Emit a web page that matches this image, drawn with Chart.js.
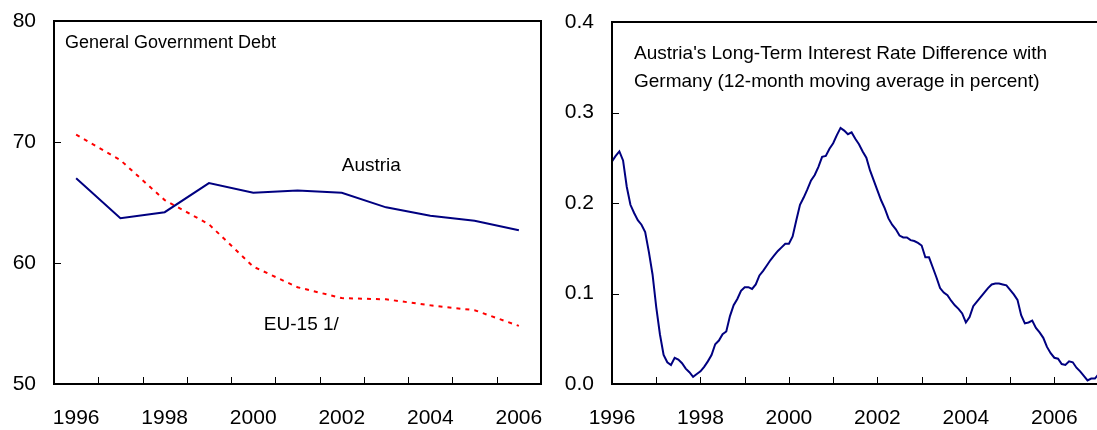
<!DOCTYPE html>
<html>
<head>
<meta charset="utf-8">
<script src="https://cdn.jsdelivr.net/npm/chart.js@4.4.1/dist/chart.umd.min.js"></script>
<style>
  html, body { margin: 0; padding: 0; background: #fff; overflow: hidden; }
  body { width: 1097px; height: 430px; position: relative; }
  #debtBox { position: absolute; left: 0; top: 0; width: 565px; height: 430px; }
  #spreadBox { position: absolute; left: 560px; top: 0; width: 560px; height: 430px; }
</style>
</head>
<body>
<div id="debtBox"><canvas id="debtChart" width="565" height="430"></canvas></div>
<div id="spreadBox"><canvas id="spreadChart" width="560" height="430"></canvas></div>
<script>
// General government debt (percent of GDP)
const years = ['1996', '1997', '1998', '1999', '2000', '2001', '2002', '2003', '2004', '2005', '2006'];
const austriaDebt = [67.0, 63.7, 64.2, 66.6, 65.8, 66.0, 65.8, 64.6, 63.9, 63.5, 62.7];
const eu15Debt = [70.6, 68.5, 65.2, 63.2, 59.7, 58.0, 57.1, 57.0, 56.5, 56.1, 54.8];

// Long-term rate difference with Germany, monthly from Jan 1996
const spreadStartYear = 1996;
const spreadValues = [
    0.246, 0.252, 0.257, 0.247, 0.218, 0.198, 0.189, 0.181, 0.176, 0.168, 0.146, 0.121,
    0.085, 0.055, 0.032, 0.024, 0.021, 0.029, 0.027, 0.023, 0.017, 0.013, 0.008, 0.011,
    0.014, 0.019, 0.025, 0.032, 0.044, 0.048, 0.055, 0.058, 0.075, 0.087, 0.094, 0.103,
    0.107, 0.107, 0.105, 0.110, 0.120, 0.125, 0.131, 0.137, 0.142, 0.147, 0.151, 0.155,
    0.155, 0.163, 0.181, 0.198, 0.206, 0.215, 0.225, 0.231, 0.240, 0.251, 0.252, 0.260,
    0.266, 0.275, 0.283, 0.280, 0.276, 0.278, 0.271, 0.265, 0.257, 0.250, 0.236, 0.225,
    0.214, 0.203, 0.194, 0.183, 0.176, 0.171, 0.164, 0.162, 0.162, 0.159, 0.158, 0.156,
    0.153, 0.140, 0.140, 0.129, 0.118, 0.106, 0.101, 0.098, 0.092, 0.087, 0.083, 0.078,
    0.068, 0.074, 0.086, 0.091, 0.096, 0.101, 0.106, 0.110, 0.111, 0.111, 0.110, 0.109,
    0.104, 0.099, 0.093, 0.076, 0.067, 0.068, 0.070, 0.062, 0.057, 0.051, 0.041, 0.034,
    0.029, 0.028, 0.022, 0.021, 0.025, 0.024, 0.018, 0.014, 0.009, 0.004, 0.006, 0.006,
    0.011
];

const FONT = "'Liberation Sans', Arial, sans-serif";
const tickFont = { family: FONT, size: 21 };

// black box round the plot area, with short ticks pointing inwards
const frame = {
    id: 'frame',
    afterDraw(chart) {
        const a = chart.chartArea;
        const ctx = chart.ctx;
        const xs = chart.scales.x;
        const ys = chart.scales.y;
        let xMarks = [];
        if (xs.type === 'category') {
            for (let i = 1; i < xs.getLabels().length; i++) {
                xMarks.push((xs.getPixelForValue(i - 1) + xs.getPixelForValue(i)) / 2);
            }
        } else {
            xMarks = xs.ticks.map(t => xs.getPixelForValue(t.value));
        }
        ctx.save();
        ctx.strokeStyle = '#000';
        ctx.lineWidth = 1;
        ctx.beginPath();
        xMarks.forEach(x => {
            const px = Math.round(x) + 0.5;
            ctx.moveTo(px, a.bottom);
            ctx.lineTo(px, a.bottom - 7);
        });
        ys.ticks.forEach(t => {
            const py = Math.round(ys.getPixelForValue(t.value)) + 0.5;
            ctx.moveTo(a.left, py);
            ctx.lineTo(a.left + 7, py);
        });
        ctx.stroke();
        ctx.lineWidth = 2;
        ctx.strokeRect(a.left, a.top, a.right - a.left, a.bottom - a.top);
        ctx.restore();
    }
};

// text inside the plot: at data values (at) or offset from the top-left corner (dx, dy)
function makeNotes(items) {
    return {
        id: 'notes',
        afterDatasetsDraw(chart) {
            const ctx = chart.ctx;
            const a = chart.chartArea;
            ctx.save();
            ctx.fillStyle = '#000';
            ctx.textAlign = 'left';
            ctx.textBaseline = 'alphabetic';
            items.forEach(item => {
                ctx.font = item.size + 'px ' + FONT;
                let x, y;
                if (item.at) {
                    x = chart.scales.x.getPixelForValue(item.at[0]);
                    y = chart.scales.y.getPixelForValue(item.at[1]);
                } else {
                    x = a.left + item.dx;
                    y = a.top + item.dy;
                }
                ctx.fillText(item.text, x, y);
            });
            ctx.restore();
        }
    };
}

const gridOpts = { drawOnChartArea: false, drawTicks: true, tickLength: -6, color: 'rgba(0,0,0,0)', lineWidth: 1 };
const axisLine = { color: '#000', width: 2 };

function fixX(s) { s.height = 46; s.paddingLeft = 0; s.paddingRight = 0; }
function fixY(width) {
    return s => { s.width = width; s.paddingTop = 0; s.paddingBottom = 0; };
}

new Chart(document.getElementById('debtChart'), {
    type: 'line',
    data: {
        labels: years,
        datasets: [
            { label: 'Austria', data: austriaDebt, borderColor: '#000080', borderWidth: 2, pointRadius: 0, tension: 0 },
            { label: 'EU-15 1/', data: eu15Debt, borderColor: '#ff0000', borderWidth: 2, borderDash: [4, 5], pointRadius: 0, tension: 0 }
        ]
    },
    options: {
        responsive: false,
        animation: false,
        events: [],
        layout: { padding: { top: 21, right: 24, left: 0, bottom: 0 } },
        plugins: { legend: { display: false }, tooltip: { enabled: false } },
        scales: {
            x: {
                offset: true,
                grid: Object.assign({ offset: true }, gridOpts),
                border: axisLine,
                ticks: {
                    autoSkip: false, maxRotation: 0, padding: 28, color: '#000', font: tickFont,
                    callback: (v, i) => (i % 2 === 0 ? years[i] : '')
                },
                afterFit: fixX
            },
            y: {
                min: 50,
                max: 80,
                grid: gridOpts,
                border: axisLine,
                ticks: { stepSize: 10, padding: 24, color: '#000', font: tickFont },
                afterFit: fixY(54)
            }
        }
    },
    plugins: [frame, makeNotes([
        { text: 'General Government Debt', size: 18, dx: 11, dy: 27 },
        { text: 'Austria', size: 19, at: [6, 67.6] },
        { text: 'EU-15 1/', size: 19, at: [4.24, 54.5] }
    ])]
});

const spreadPoints = spreadValues.map((v, i) => ({ x: spreadStartYear + i / 12, y: v }));

new Chart(document.getElementById('spreadChart'), {
    type: 'line',
    data: {
        datasets: [
            { label: 'Spread', data: spreadPoints, borderColor: '#000080', borderWidth: 2, pointRadius: 0, tension: 0 }
        ]
    },
    options: {
        responsive: false,
        animation: false,
        events: [],
        layout: { padding: { top: 22, right: 17, left: 0, bottom: 0 } },
        plugins: { legend: { display: false }, tooltip: { enabled: false } },
        scales: {
            x: {
                type: 'linear',
                min: 1996,
                max: 2007.1,
                grid: gridOpts,
                border: axisLine,
                ticks: {
                    stepSize: 1, includeBounds: false, autoSkip: false, maxRotation: 0,
                    padding: 28, color: '#000', font: tickFont,
                    callback: v => (v % 2 === 0 ? String(v) : '')
                },
                afterFit: fixX
            },
            y: {
                min: 0,
                max: 0.4,
                grid: gridOpts,
                border: axisLine,
                ticks: { stepSize: 0.1, padding: 24, color: '#000', font: tickFont, callback: v => v.toFixed(1) },
                afterFit: fixY(52)
            }
        }
    },
    plugins: [frame, makeNotes([
        { text: "Austria's Long-Term Interest Rate Difference with", size: 19, dx: 22, dy: 37 },
        { text: 'Germany (12-month moving average in percent)', size: 19, dx: 22, dy: 65 }
    ])]
});
</script>
</body>
</html>
